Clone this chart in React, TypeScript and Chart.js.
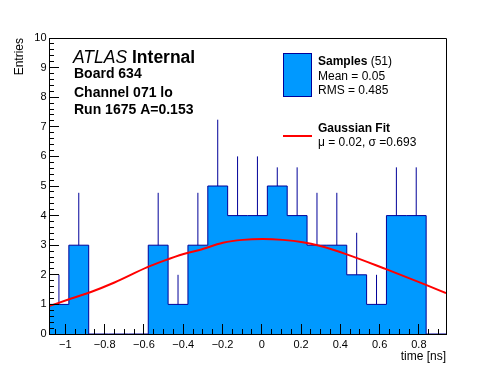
import { useEffect, useRef } from "react";
import { Chart, registerables } from "chart.js";

Chart.register(...registerables);

// ---- data ----
const binLow = -1.0834;
const binWidth = 0.10107;
const counts = [1, 3, 0, 0, 0, 3, 1, 3, 5, 4, 4, 5, 4, 3, 3, 2, 1, 4, 4, 0];
// upper end of each bin's error bar (as drawn)
const errTop = [2.0, 4.77, 0, 0, 0, 4.77, 2.0, 4.77, 7.24, 6.0, 6.0, 5.63, 5.63, 4.77, 4.77, 3.42, 2.0, 5.63, 5.63, 0];
const fitX = [-1.083, -0.97, -0.87, -0.75, -0.585, -0.5, -0.398, -0.317, -0.198, -0.097, 0.005, 0.107, 0.209, 0.293, 0.429, 0.633, 0.836, 0.938];
const fitY = [0.94, 1.2, 1.42, 1.74, 2.25, 2.47, 2.7, 2.84, 3.08, 3.18, 3.21, 3.18, 3.1, 2.98, 2.7, 2.19, 1.66, 1.38];
const xMin = -1.0834;
const xMax = 0.938;
const yMin = 0;
const yMax = 10;
const xMajorStep = 0.2;
const xMinorStep = 0.05;
const yMajorStep = 1;
const yMinorStep = 0.2;

const xTitle = "time [ns]";
const yTitle = "Entries";
const atlasLabel = ["ATLAS", "Internal"];
const infoLines = ["Board 634", "Channel 071 lo", "Run 1675 A=0.153"];
const histLegend = ["Samples", " (51)", "Mean = 0.05", "RMS = 0.485"];
const fitLegend = ["Gaussian Fit", "\u03bc = 0.02, \u03c3 =0.693"];

const FILL = "#0099ff";
const NAVY = "#000099";
const RED = "#ff0000";
const FONT = '"Liberation Sans", Arial, Helvetica, sans-serif';

const fmtX = (v: number) => {
  const r = Math.round(v * 10) / 10;
  return (r === 0 ? "0" : String(r)).replace("-", "\u2212");
};

const annotPlugin = {
  id: "annot",
  afterDraw(chart: any) {
    const ctx = chart.ctx as CanvasRenderingContext2D;
    const { left, right, top, bottom } = chart.chartArea;
    ctx.save();
    // frame top & right
    ctx.strokeStyle = "#000";
    ctx.lineWidth = 1;
    ctx.beginPath();
    ctx.moveTo(left, top + 0.5);
    ctx.lineTo(right + 0.5, top + 0.5);
    ctx.lineTo(right + 0.5, bottom + 1);
    ctx.stroke();

    ctx.fillStyle = "#000";
    ctx.textBaseline = "alphabetic";
    ctx.textAlign = "left";
    // ATLAS Internal
    ctx.font = `italic 17.5px ${FONT}`;
    ctx.fillText(atlasLabel[0], 73, 63);
    const w = ctx.measureText(atlasLabel[0] + " ").width;
    ctx.font = `bold 17.5px ${FONT}`;
    ctx.fillText(atlasLabel[1], 73 + w, 63);
    // info lines
    ctx.font = `bold 14px ${FONT}`;
    const bases = [78, 96.5, 114];
    infoLines.forEach((t, i) => ctx.fillText(t, 74, bases[i]));

    // legend: histogram entry
    ctx.fillStyle = FILL;
    ctx.fillRect(283.5, 53.5, 28, 43);
    ctx.strokeStyle = NAVY;
    ctx.strokeRect(283.5, 53.5, 28, 43);
    ctx.fillStyle = "#000";
    ctx.font = `bold 12px ${FONT}`;
    ctx.fillText(histLegend[0], 318, 65);
    const w2 = ctx.measureText(histLegend[0]).width;
    ctx.font = `12px ${FONT}`;
    ctx.fillText(histLegend[1], 318 + w2, 65);
    ctx.fillText(histLegend[2], 318, 80);
    ctx.fillText(histLegend[3], 318, 93.5);

    // legend: fit entry
    ctx.strokeStyle = RED;
    ctx.lineWidth = 2;
    ctx.beginPath();
    ctx.moveTo(283, 136);
    ctx.lineTo(312, 136);
    ctx.stroke();
    ctx.fillStyle = "#000";
    ctx.font = `bold 12px ${FONT}`;
    ctx.fillText(fitLegend[0], 318, 132);
    ctx.font = `12px ${FONT}`;
    ctx.fillText(fitLegend[1], 318, 145.5);
    ctx.restore();
  },
};

export default function App() {
  const ref = useRef<HTMLCanvasElement>(null);

  useEffect(() => {
    document.body.style.margin = "0";
    if (!ref.current) return;

    const histPts = counts.map((c, i) => ({ x: binLow + i * binWidth, y: c }));
    histPts.push({ x: binLow + counts.length * binWidth, y: counts[counts.length - 1] });

    const errPts: { x: number; y: number | null }[] = [];
    counts.forEach((c, i) => {
      if (c <= 0) return;
      const cx = binLow + (i + 0.5) * binWidth;
      errPts.push({ x: cx, y: c }, { x: cx, y: errTop[i] }, { x: cx, y: null });
    });

    const fitPts = fitX.map((x, i) => ({ x, y: fitY[i] }));

    const tickFont = { family: FONT, size: 11 };
    const gridCommon = { drawOnChartArea: false, color: "#000", tickColor: "#000", lineWidth: 1, z: 1 };

    const chart = new Chart(ref.current, {
      type: "line",
      data: {
        datasets: [
          {
            data: fitPts,
            borderColor: RED,
            borderWidth: 2,
            pointRadius: 0,
            fill: false,
            cubicInterpolationMode: "monotone",
            order: 0,
          } as any,
          {
            data: errPts,
            borderColor: NAVY,
            borderWidth: 1,
            pointRadius: 0,
            fill: false,
            spanGaps: false,
            order: 1,
          },
          {
            data: histPts,
            borderColor: NAVY,
            borderWidth: 1,
            backgroundColor: FILL,
            pointRadius: 0,
            stepped: "before",
            fill: "origin",
            order: 2,
          },
        ],
      },
      options: {
        animation: false,
        responsive: false,
        events: [],
        layout: { padding: { top: 38, right: 50, left: 0, bottom: 0 } },
        plugins: { legend: { display: false }, tooltip: { enabled: false } },
        scales: {
          x: {
            type: "linear",
            axis: "x",
            position: "bottom",
            weight: 1,
            min: xMin,
            max: xMax,
            afterFit: (s: any) => {
              s.height = 38;
            },
            grid: { ...gridCommon, tickLength: -10 },
            border: { display: true, color: "#000", width: 1, z: 1 },
            ticks: {
              stepSize: xMajorStep,
              includeBounds: false,
              autoSkip: false,
              maxRotation: 0,
              padding: 14.5,
              color: "#000",
              font: tickFont,
              z: 1,
              callback: (v: any) => fmtX(Number(v)),
            },
            title: {
              display: true,
              text: xTitle,
              align: "end",
              color: "#000",
              font: { family: FONT, size: 12 },
              padding: { top: 0, bottom: 8 },
            },
          },
          y: {
            type: "linear",
            axis: "y",
            position: "left",
            weight: 1,
            min: yMin,
            max: yMax,
            afterFit: (s: any) => {
              s.width = 49;
            },
            grid: { ...gridCommon, tickLength: -10 },
            border: { display: true, color: "#000", width: 1, z: 1 },
            ticks: {
              stepSize: yMajorStep,
              includeBounds: false,
              autoSkip: false,
              padding: 12.5,
              color: "#000",
              font: tickFont,
              z: 1,
              callback: (v: any) => String(Math.round(Number(v))),
            },
            title: {
              display: true,
              text: yTitle,
              align: "end",
              color: "#000",
              font: { family: FONT, size: 12 },
              padding: { top: 12, bottom: 0 },
            },
          },
          xm: {
            type: "linear",
            axis: "x",
            position: "bottom",
            weight: 0,
            min: xMin,
            max: xMax,
            afterFit: (s: any) => {
              s.height = 0;
            },
            grid: { ...gridCommon, tickLength: -5 },
            border: { display: false },
            ticks: { stepSize: xMinorStep, includeBounds: false, autoSkip: false, display: false, callback: () => "" },
          },
          ym: {
            type: "linear",
            axis: "y",
            position: "left",
            weight: 0,
            min: yMin,
            max: yMax,
            afterFit: (s: any) => {
              s.width = 0;
            },
            grid: { ...gridCommon, tickLength: -5 },
            border: { display: false },
            ticks: { stepSize: yMinorStep, includeBounds: false, autoSkip: false, display: false, callback: () => "" },
          },
        },
      } as any,
      plugins: [annotPlugin],
    });

    return () => chart.destroy();
  }, []);

  return (
    <div style={{ position: "absolute", left: 0, top: 0, width: 496, height: 372, background: "#fff" }}>
      <canvas ref={ref} width={496} height={372} style={{ display: "block" }} />
    </div>
  );
}
